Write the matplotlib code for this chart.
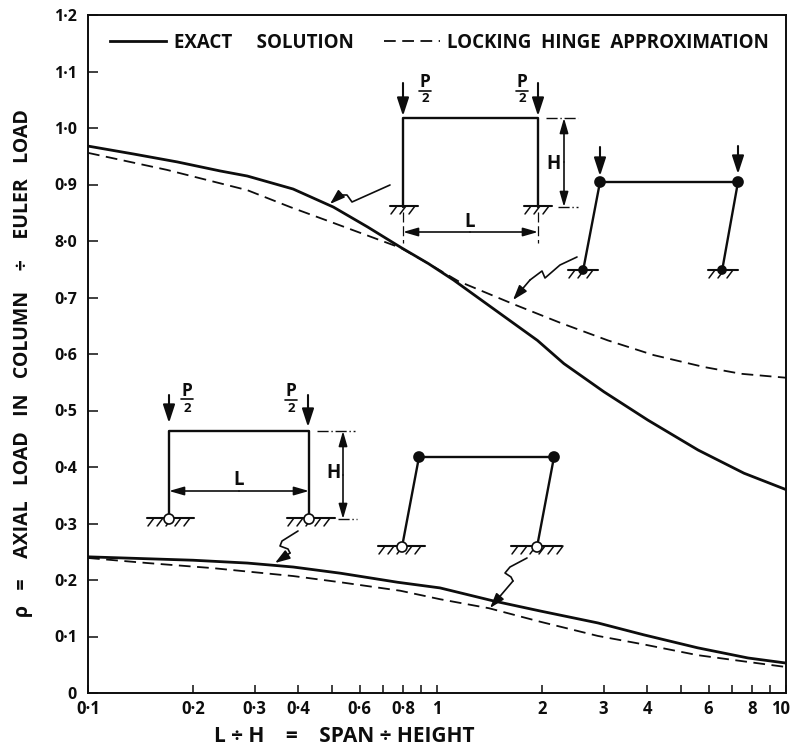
import matplotlib
matplotlib.use("Agg")
import matplotlib.pyplot as plt
from matplotlib.patches import Circle
from matplotlib.transforms import ScaledTranslation

# ---------- chart data ----------
fixed_x = [0.1, 0.135, 0.18, 0.239, 0.286, 0.387, 0.505, 0.632, 0.786, 0.945, 1.115, 1.40, 1.94, 2.31, 3.01, 4.02, 5.6, 7.58, 10]
fixed_exact = [0.968, 0.954, 0.940, 0.924, 0.915, 0.892, 0.860, 0.825, 0.789, 0.760, 0.731, 0.687, 0.624, 0.583, 0.533, 0.483, 0.430, 0.389, 0.360]
fixed_lock_x = [0.1, 0.168, 0.286, 0.38, 0.505, 0.786, 0.945, 1.15, 1.66, 2.26, 3.09, 4.18, 5.82, 7.43, 10]
fixed_lock = [0.956, 0.926, 0.890, 0.860, 0.832, 0.788, 0.760, 0.729, 0.688, 0.655, 0.624, 0.598, 0.577, 0.565, 0.558]
pinned_x = [0.1, 0.2, 0.286, 0.387, 0.529, 0.771, 1.02, 1.45, 1.98, 2.89, 3.91, 5.58, 7.78, 10]
pinned_exact = [0.241, 0.235, 0.230, 0.223, 0.212, 0.196, 0.186, 0.163, 0.145, 0.124, 0.103, 0.080, 0.062, 0.053]
pinned_lock_x = [0.1, 0.148, 0.228, 0.387, 0.529, 0.785, 1.02, 1.41, 1.98, 2.89, 3.91, 5.58, 7.78, 10]
pinned_lock = [0.239, 0.230, 0.221, 0.207, 0.196, 0.181, 0.166, 0.150, 0.126, 0.101, 0.086, 0.067, 0.055, 0.046]

x_ticks = [0.1, 0.2, 0.3, 0.4, 0.5, 0.6, 0.7, 0.8, 0.9, 1, 2, 3, 4, 5, 6, 7, 8, 9, 10]
x_tick_labels = ["0·1", "0·2", "0·3", "0·4", "", "0·6", "", "0·8", "", "1", "2", "3", "4", "", "6", "", "8", "", "10"]
y_ticks = [0, 0.1, 0.2, 0.3, 0.4, 0.5, 0.6, 0.7, 0.8, 0.9, 1.0, 1.1, 1.2]
y_tick_labels = ["0", "0·1", "0·2", "0·3", "0·4", "0·5", "0·6", "0·7", "8·0", "0·9", "1·0", "1·1", "1·2"]

INK = "#0d0d0d"
plt.rcParams["font.family"] = ["Open Sans", "DejaVu Sans"]
plt.rcParams["font.weight"] = "bold"

W, H = 792, 747
fig = plt.figure(figsize=(W / 100, H / 100), dpi=100, facecolor="white")
L_, R_, T_, B_ = 88, 786, 15, 693
ax = fig.add_axes([L_ / W, 1 - B_ / H, (R_ - L_) / W, (B_ - T_) / H])
ax.set_xscale("log")
ax.set_xlim(0.1, 10)
ax.set_ylim(0, 1.2)

DASH = (6.5, 3.6)
ax.plot(fixed_lock_x, fixed_lock, color=INK, lw=1.3, dashes=DASH, label="LOCKING  HINGE  APPROXIMATION", zorder=2)
ax.plot(pinned_lock_x, pinned_lock, color=INK, lw=1.3, dashes=DASH, zorder=2)
ax.plot(fixed_x, fixed_exact, color=INK, lw=2.0, label="EXACT     SOLUTION", zorder=3)
ax.plot(pinned_x, pinned_exact, color=INK, lw=2.0, zorder=3)

ax.set_xticks(x_ticks)
ax.set_xticklabels(x_tick_labels, fontsize=12)
ax.minorticks_off()
ax.set_yticks(y_ticks)
ax.set_yticklabels(y_tick_labels, fontsize=11.5)
ax.tick_params(axis="x", direction="in", length=6, width=1.1, pad=5, colors=INK)
ax.tick_params(axis="y", direction="in", length=7, width=1.1, pad=8, colors=INK)
for s in ax.spines.values():
    s.set_linewidth(1.4)
    s.set_color(INK)
# the "10" sits a little inside the right edge
lab10 = ax.get_xticklabels()[-1]
lab10.set_transform(lab10.get_transform() + ScaledTranslation(-5 / 100, 0, fig.dpi_scale_trans))

handles, labels = ax.get_legend_handles_labels()
ax.legend(handles[::-1], labels[::-1], ncol=2, frameon=False, loc="center left",
          bbox_to_anchor=(110 / W, 1 - 43 / H), bbox_transform=fig.transFigure,
          fontsize=13.5, borderpad=0, borderaxespad=0, handlelength=3.0,
          handletextpad=0.4, columnspacing=1.6, labelcolor=INK)

fig.text(23 / W, 1 - 363 / H, "ρ   =    AXIAL   LOAD   IN   COLUMN    ÷    EULER   LOAD", rotation=90,
         ha="center", va="center", fontsize=14, color=INK)
fig.text(344 / W, 1 - 736 / H, "L ÷ H    =    SPAN ÷ HEIGHT", ha="center", va="center", fontsize=15, color=INK)

# ---------- schematic overlay, in picture pixels ----------
ov = fig.add_axes([0, 0, 1, 1], facecolor="none", zorder=5)
ov.set_xlim(0, W)
ov.set_ylim(H, 0)
ov.axis("off")

HEAD_LOAD = "-|>,head_length=1.1,head_width=0.36"
HEAD_DIM = "-|>,head_length=0.9,head_width=0.26"
HEAD_LEAD = "-|>,head_length=0.9,head_width=0.3"


def line(xs, ys, lw=1.7, **kw):
    ov.plot(xs, ys, color=INK, lw=lw, solid_capstyle="round", **kw)


def arrow(x0, y0, x1, y1, style=HEAD_DIM, lw=1.2, scale=10):
    ov.annotate("", xy=(x1, y1), xytext=(x0, y0),
                arrowprops=dict(arrowstyle=style, color=INK, lw=lw, mutation_scale=scale,
                                shrinkA=0, shrinkB=0))


def ground(x0, x1, y, step=9):
    line([x0, x1], [y, y], lw=1.5)
    x = x0 + 7
    while x < x1 + 2:
        line([x, x - 6], [y, y + 8], lw=1.1)
        x += step


def pin(x, y, r, filled):
    ov.add_patch(Circle((x, y), r, facecolor=INK if filled else "white", edgecolor=INK, lw=1.2, zorder=6))


def half_p(x, y_p, y_rule, y_2):
    ov.text(x, y_p, "P", ha="center", va="center", fontsize=12.5, color=INK)
    line([x - 6, x + 6], [y_rule, y_rule], lw=1.2)
    ov.text(x, y_2, "2", ha="center", va="center", fontsize=9.5, color=INK)


def leader(xs, ys):
    line(xs[:-1], ys[:-1], lw=1.2)
    arrow(xs[-2], ys[-2], xs[-1], ys[-1], style=HEAD_LEAD, lw=1.2)


def letter(x, y, s):
    ov.text(x, y, s, ha="center", va="center", fontsize=13.5, color=INK)


# fixed-base frame
line([403, 403, 538, 538], [207, 118, 118, 207])
ground(390, 418, 206)
ground(524, 552, 206)
arrow(403, 83, 403, 116, style=HEAD_LOAD, lw=1.5)
arrow(538, 83, 538, 116, style=HEAD_LOAD, lw=1.5)
half_p(425, 82, 91, 98)
half_p(522, 82, 91, 98)
line([546, 578], [118, 118], lw=1.0, ls=(0, (8, 2, 1, 2)))
line([558, 578], [207, 207], lw=1.0, ls=(0, (8, 2, 1, 2)))
arrow(564, 162, 564, 118)
arrow(564, 162, 564, 207)
letter(553, 164, "H")
arrow(470, 232, 403, 232)
arrow(470, 232, 538, 232)
letter(470, 222, "L")
line([403, 403], [212, 243], lw=0.9, ls=(0, (8, 3)))
line([538, 538], [212, 243], lw=0.9, ls=(0, (8, 3)))

# fixed-base locking hinge frame
line([583, 600, 738, 722], [271, 182, 182, 271])
ground(568, 598, 270)
ground(708, 738, 270)
pin(600, 182, 5, True)
pin(738, 182, 5, True)
pin(583, 270, 4, True)
pin(722, 270, 4, True)
arrow(600, 147, 600, 176, style=HEAD_LOAD, lw=1.5)
arrow(738, 146, 738, 174, style=HEAD_LOAD, lw=1.5)

# pinned-base frame
line([169, 169, 309, 309], [519, 431, 431, 519])
ground(147, 194, 518)
ground(287, 335, 518)
pin(169, 519, 5, False)
pin(309, 519, 5, False)
arrow(169, 395, 169, 423, style=HEAD_LOAD, lw=1.5)
arrow(308, 395, 308, 427, style=HEAD_LOAD, lw=1.5)
half_p(187, 391, 399, 408)
half_p(291, 391, 400, 408)
line([317, 355], [431, 431], lw=1.0, ls=(0, (8, 2, 1, 2)))
line([338, 357], [519, 519], lw=1.0, ls=(0, (8, 2, 1, 2)))
arrow(343, 475, 343, 431)
arrow(343, 475, 343, 519)
letter(334, 473, "H")
arrow(239, 491, 169, 491)
arrow(239, 491, 309, 491)
letter(239, 480, "L")

# pinned-base locking hinge frame
line([402, 419, 554, 537], [547, 457, 457, 547])
ground(378, 425, 546)
ground(511, 562, 546)
pin(419, 457, 5, True)
pin(554, 457, 5, True)
pin(402, 547, 5, False)
pin(537, 547, 5, False)

# leaders
leader([390, 352, 347, 340, 330], [185, 202, 195, 195, 204])
leader([577, 560, 545, 542, 530, 513], [257, 265, 278, 271, 280, 300])
leader([298, 282, 280, 288, 290, 275], [531, 541, 546, 549, 553, 563])
leader([527, 510, 505, 511, 513, 490], [558, 567, 573, 577, 581, 608])

fig.savefig("out.png", dpi=100, facecolor="white")
